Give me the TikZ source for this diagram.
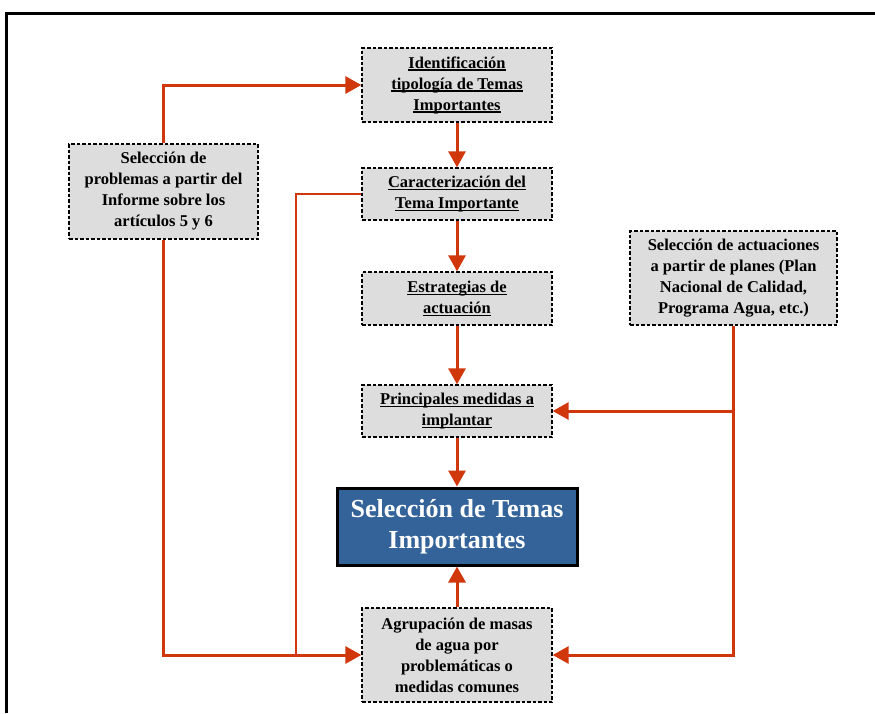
\documentclass[tikz,border=0pt]{standalone}
\usepackage{fontspec}
\setmainfont{Liberation Serif}
\usetikzlibrary{arrows.meta,calc}
\definecolor{arr}{RGB}{208,55,10}
\definecolor{boxgray}{RGB}{221,221,221}
\definecolor{mainblue}{RGB}{51,99,153}
\newcommand\myul[1]{\setbox0\hbox{#1}\rlap{\rule[-2.8pt]{\wd0}{1.6pt}}\box0}
\tikzset{
  grayboxstyle/.style={draw=black, fill=boxgray, line width=1.3pt, dash pattern=on 3.5pt off 2pt,
    align=center, inner sep=0pt, font=\fontsize{16.5}{21}\selectfont\bfseries},
  mainboxstyle/.style={draw=black, fill=mainblue, line width=3pt, align=center, inner sep=0pt,
    text=white, font=\fontsize{26}{31}\selectfont\bfseries},
  conn/.style={draw=arr, line width=3pt},
  arrowconn/.style={conn, -{Triangle[length=16pt,width=17pt]}},
  framestyle/.style={draw=black, line width=3pt}
}
\begin{document}
\begin{tikzpicture}[x=1pt,y=-1pt]
\useasboundingbox (0,0) rectangle (875,713);
\draw[framestyle] (6,713) -- (6,13) -- (875,13);

\node[grayboxstyle, minimum width=190pt, minimum height=74pt] (b1) at (457,85)
  {\myul{Identificación}\\ \myul{tipología de Temas}\\ \myul{Importantes}};
\node[grayboxstyle, minimum width=190pt, minimum height=52pt] (b2) at (457,194)
  {\myul{Caracterización del}\\ \myul{Tema Importante}};
\node[grayboxstyle, minimum width=190pt, minimum height=53pt] (b3) at (457,298.5)
  {\myul{Estrategias de}\\ \myul{actuación}};
\node[grayboxstyle, minimum width=190pt, minimum height=52pt] (b4) at (457,411)
  {\myul{Principales medidas a}\\ \myul{implantar}};
\node[mainboxstyle, minimum width=240pt, minimum height=77pt] (main) at (457,526.5)
  {Selección de Temas\\ Importantes};
\node[grayboxstyle, minimum width=190pt, minimum height=94pt] (b6) at (457,655)
  {Agrupación de masas\\ de agua por\\ problemáticas o\\ medidas comunes};
\node[grayboxstyle, minimum width=189pt, minimum height=95pt] (left) at (163.5,191.5)
  {Selección de\\ problemas a partir del\\ Informe sobre los\\ artículos 5 y 6};
\node[grayboxstyle, minimum width=207pt, minimum height=94pt] (right) at (733.5,278)
  {Selección de actuaciones\\ a partir de planes (Plan\\ Nacional de Calidad,\\ Programa Agua, etc.)};

\draw[arrowconn] (b1.south) -- (b2.north);
\draw[arrowconn] (b2.south) -- (b3.north);
\draw[arrowconn] (b3.south) -- (b4.north);
\draw[arrowconn] (b4.south) -- (main.north);
\draw[arrowconn] (b6.north) -- (main.south);

\draw[arrowconn] (left.north) |- (b1.west);
\draw[arrowconn] (left.south) |- (b6.west);
\coordinate (j1) at (296,655);
\draw[conn, line width=2.5pt] (b2.west) -| (j1);
\draw[arrowconn] (right.south) |- (b6.east);
\coordinate (j2) at (right.south |- b4.east);
\draw[arrowconn] (j2) -- (b4.east);
\end{tikzpicture}
\end{document}
